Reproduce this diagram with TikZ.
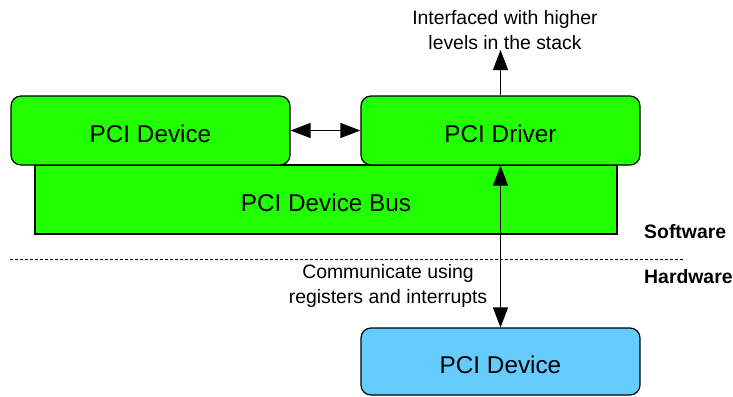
\documentclass[tikz,border=0pt]{standalone}
\usepackage{fontspec}
\setmainfont{Liberation Sans}
\usetikzlibrary{arrows.meta}
\definecolor{swgreen}{HTML}{22FF00}
\definecolor{hwblue}{HTML}{66CCFF}
\tikzset{
  box/.style={draw=black, line width=1.2pt, rounded corners=10pt, minimum width=279pt, minimum height=69pt, inner sep=0pt, text height=24pt, text depth=0pt, font=\fontsize{24.3}{29}\selectfont},
  busbox/.style={draw=black, line width=1.2pt, fill=swgreen, minimum width=582pt, minimum height=69pt, inner sep=0pt, text height=24pt, text depth=0pt, font=\fontsize{24.3}{29}\selectfont},
  note/.style={align=center, inner sep=0pt, font=\fontsize{19.4}{25}\selectfont},
  side/.style={inner sep=0pt, anchor=west, font=\fontsize{19.4}{23}\selectfont\bfseries},
  conn/.style={line width=1.2pt, draw=black},
  onetip/.style={-{Triangle[length=20pt,width=15pt]}},
  twotips/.style={{Triangle[length=20pt,width=15pt]}-{Triangle[length=20pt,width=15pt]}}
}
\begin{document}
\begin{tikzpicture}[x=1pt,y=-1pt]
\useasboundingbox (0,0) rectangle (733,396);
\node[busbox] (bus) at (326,199.5) {PCI Device Bus};
\node[box, fill=swgreen] (dev) at (150.5,130.5) {PCI Device};
\node[box, fill=swgreen] (drv) at (500.5,130.5) {PCI Driver};
\node[box, fill=hwblue, minimum height=67pt] (hw) at (500.5,361.5) {PCI Device};
\coordinate (top) at (500.5,50);
\node[note] (up) at (505,30) {Interfaced with higher\\levels in the stack};
\node[note] (comm) at (388,286) {Communicate using\\registers and interrupts};
\node[side] (sw) at (644,232) {Software};
\node[side] (hwl) at (644,277) {Hardware};
\coordinate (dl) at (10,259);
\coordinate (dr) at (685,259);
\draw[line width=0.8pt, dash pattern=on 3pt off 2pt] (dl) -- (dr);
\draw[conn, twotips] (dev.east) -- (drv.west);
\draw[conn, onetip] (drv.north) -- (top);
\draw[conn, twotips] (hw.north) -- (drv.south);
\end{tikzpicture}
\end{document}
